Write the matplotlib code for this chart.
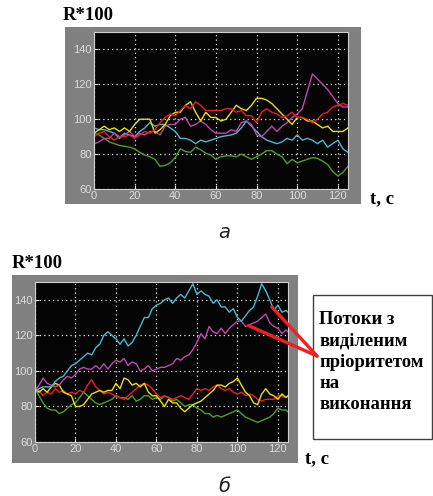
#Recreation of two R*100 vs t plots (a, b) with priority streams note

import numpy as np
import matplotlib.pyplot as plt
from matplotlib.patches import Rectangle

#Top panel (a): samples every 2.5 s
t_a = np.arange(0, 125.1, 2.5)
green_a = [92, 91, 89, 87, 86, 85, 84.5, 84, 83, 81,
           79.5, 78.5, 77, 73, 73.5, 75, 78, 83, 81.5, 81,
           84, 82.5, 80.5, 79.5, 77, 78.5, 79, 79, 78.5, 80,
           78.5, 77, 78.5, 80, 82, 82, 80, 78.5, 74.5, 77,
           75, 76, 77, 78, 77.5, 76, 74, 70, 67.5, 69.5,
           73]
cyan_a = [95, 94, 94, 93, 92, 89, 92, 91, 90, 93,
          95, 98, 96, 97, 97, 95, 93, 89, 89, 88,
          86, 88, 87, 88, 89, 90, 90.5, 91, 92, 95,
          99, 96, 93, 90, 88, 87, 86, 87, 89, 88,
          91, 88, 89, 88, 86, 88, 84, 86, 88, 83,
          81]
magenta_a = [86, 87, 89, 89, 92, 90, 91, 93, 90, 92,
             91, 93, 93, 91, 96, 97, 97, 100, 101, 96,
             97, 99, 97, 94, 92, 92, 92, 94, 93, 98,
             99, 97, 91, 90, 93, 96, 93, 96, 98, 101,
             103, 106, 116, 126, 123, 120, 117, 113, 109, 107,
             107]
yellow_a = [92, 94, 96, 94, 95, 93, 95, 93, 97, 100,
            100, 100, 92, 94, 97, 102, 104, 104, 108, 110,
            104, 99, 104, 101, 101, 99, 100, 104, 108, 106,
            105, 108, 112, 112, 111, 109, 106, 103, 100, 97,
            101, 101, 99, 99, 97, 95, 96, 93, 93, 93,
            95]
red_a = [90, 92, 93, 90, 88, 90, 90, 91, 89, 91,
         93, 92, 94, 98, 101, 103, 102, 105, 108, 106,
         110, 108, 105, 105, 105, 105, 106, 106, 104, 105,
         102, 102, 98, 104, 106, 104, 103, 101, 102, 104,
         101, 101, 100, 98, 100, 103, 104, 107, 108, 109,
         108]

#Bottom panel (b): samples every 2 s, last one at 125
t_b = np.append(np.arange(0, 125, 2), 125)
green_b = [90, 86, 82, 79, 78, 78, 76, 77, 79, 81,
           82, 85, 88, 86, 84, 82, 81, 82, 83, 84,
           86, 85, 85, 84, 86, 83, 84, 86, 86, 84,
           85, 84, 86, 85, 83, 84, 82, 80, 81, 81,
           79, 78, 76, 76, 74, 75, 74, 75, 76, 77,
           78, 76, 74, 73, 72, 71, 72, 73, 74, 76,
           79, 78, 78, 77]
cyan_b = [88, 90, 91, 91, 91, 94, 96, 97, 100, 103,
          104, 106, 108, 110, 109, 113, 115, 120, 122, 120,
          118, 115, 118, 114, 116, 120, 125, 130, 130, 135,
          137, 138, 140, 141, 138, 141, 143, 141, 145, 149,
          143, 145, 143, 142, 138, 140, 136, 136, 133, 135,
          130, 128, 131, 134, 136, 142, 149, 145, 140, 134,
          137, 133, 134, 133]
magenta_b = [89, 92, 96, 93, 92, 91, 92, 95, 97, 96,
             98, 101, 102, 101, 101, 103, 101, 104, 101, 104,
             106, 105, 107, 103, 105, 104, 100, 101, 103, 100,
             101, 102, 102, 103, 104, 107, 106, 108, 109, 112,
             116, 121, 118, 125, 122, 121, 124, 121, 124, 126,
             128, 128, 125, 126, 127, 128, 130, 132, 127, 125,
             124, 121, 123, 122]
yellow_b = [90, 88, 90, 88, 91, 93, 92, 88, 87, 86,
            80, 80, 81, 84, 87, 88, 89, 88, 89, 89,
            93, 90, 96, 95, 92, 93, 91, 93, 88, 86,
            86, 83, 80, 84, 82, 82, 79, 77, 79, 81,
            82, 83, 85, 87, 89, 92, 92, 91, 93, 94,
            96, 92, 88, 86, 82, 81, 87, 90, 87, 86,
            84, 87, 85, 86]
red_b = [91, 89, 86, 88, 87, 90, 88, 89, 87, 88,
         87, 89, 88, 92, 95, 91, 89, 87, 88, 87,
         86, 85, 84, 86, 88, 90, 92, 93, 92, 90,
         87, 85, 86, 85, 84, 85, 86, 85, 84, 87,
         90, 89, 90, 89, 91, 92, 90, 89, 90, 88,
         87, 88, 86, 87, 86, 84, 83, 84, 84, 84,
         86, 86, 85, 86]

xticks = [0, 20, 40, 60, 80, 100, 120]
yticks = [60, 80, 100, 120, 140]
note_lines = ['Потоки з', 'виділеним', 'пріоритетом', 'на', 'виконання']

colors = {'green': '#4f9e2c', 'cyan': '#4ab8d0', 'magenta': '#c444b4',
          'yellow': '#e8e200', 'red': '#f41c1c'}

W, H = 433, 496
fig = plt.figure(figsize=(W / 100, H / 100), dpi=100)
fig.patch.set_facecolor('white')

def fx(px):
    return px / W

def fy(py):
    return 1 - py / H

def panel(frame, box, t, series):
    #gray frame behind the axes
    fx0, fy0, fx1, fy1 = frame
    fig.patches.append(Rectangle((fx(fx0), fy(fy1)), fx(fx1 - fx0), (fy1 - fy0) / H,
                                 transform=fig.transFigure, facecolor='#808080',
                                 edgecolor='none', zorder=-2))
    x0, y0, x1, y1 = box
    ax = fig.add_axes([fx(x0), fy(y1), fx(x1 - x0), (y1 - y0) / H])
    ax.set_facecolor('#050505')
    for name, vals in series:
        ax.plot(t, vals, color=colors[name], lw=1.0)
    ax.set_xlim(0, 125)
    ax.set_ylim(60, 150)
    ax.set_xticks(xticks)
    ax.set_yticks(yticks)
    ax.grid(True, color='#e8e8e8', linestyle=(0, (1, 2.5)), linewidth=0.9)
    ax.tick_params(direction='in', colors='#dcdcdc', labelsize=8, length=3,
                   pad=1.5, labelfontfamily='Liberation Sans')
    for s in ax.spines.values():
        s.set_color('#d0d0d0')
        s.set_linewidth(0.8)
    return ax

ax1 = panel((65, 27, 361, 204), (94, 32, 348, 189), t_a,
            [('green', green_a), ('cyan', cyan_a), ('magenta', magenta_a),
             ('yellow', yellow_a), ('red', red_a)])
ax2 = panel((12, 275, 298, 463), (35, 282, 288, 442), t_b,
            [('green', green_b), ('red', red_b), ('yellow', yellow_b),
             ('magenta', magenta_b), ('cyan', cyan_b)])

lab = dict(family='Liberation Serif', fontweight='bold', fontsize=13.5, color='black')
fig.text(fx(63), fy(16), 'R*100', va='center', ha='left', **lab)
fig.text(fx(370), fy(199), 't, c', va='center', ha='left', **lab)
fig.text(fx(12), fy(264), 'R*100', va='center', ha='left', **lab)
fig.text(fx(305), fy(459), 't, c', va='center', ha='left', **lab)

cap = dict(fontsize=14, style='italic', color='#222222', ha='center', va='center')
fig.text(fx(224), fy(232), 'а', **cap)
fig.text(fx(224), fy(486), 'б', **cap)

#note box
fig.patches.append(Rectangle((fx(313), fy(439)), fx(432 - 313), (439 - 295) / H,
                             transform=fig.transFigure, facecolor='white',
                             edgecolor='#404040', linewidth=1.0, zorder=-1))
for i, line in enumerate(note_lines):
    fig.text(fx(319), fy(320 + i * 21.2), line, va='center', ha='left',
             family='Liberation Serif', fontweight='bold', fontsize=13.4, zorder=3)

#red pointers to the two priority streams
for pt in [(117, 136), (105.5, 125.5)]:
    ax2.annotate('', xy=pt, xycoords='data', xytext=(fx(317), fy(356)),
                 textcoords='figure fraction', annotation_clip=False,
                 arrowprops=dict(arrowstyle='-', color='#ee2020', lw=2.4,
                                 shrinkA=0, shrinkB=0))

fig.savefig('out.png', dpi=100)
plt.close()
